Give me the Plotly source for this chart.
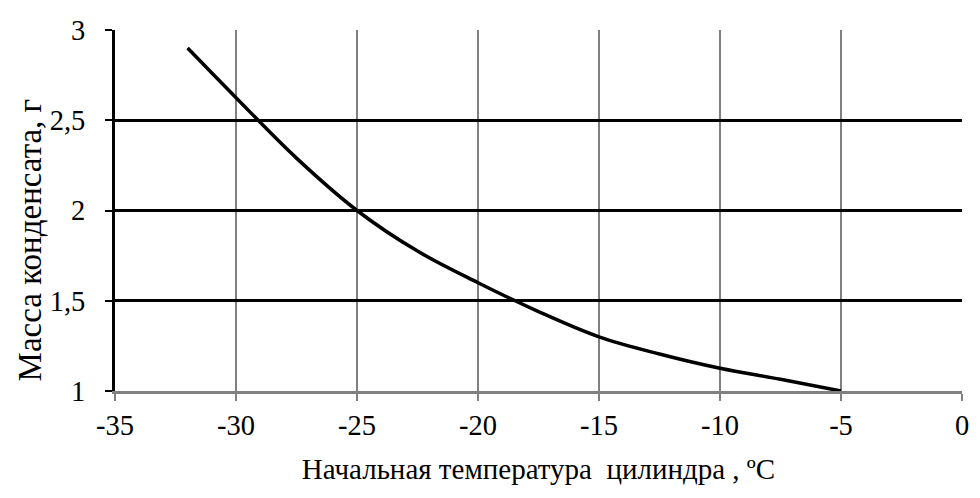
import plotly.graph_objects as go

# Начальная температура цилиндра, ºC
temperature = [-32, -30, -27.5, -25, -22.5, -20, -17.5, -15, -12.5, -10, -7.5, -5]
# Масса конденсата, г
condensate_mass = [2.9, 2.625, 2.29, 2.0, 1.775, 1.6, 1.44, 1.3, 1.205, 1.126, 1.065, 1.0]

x_ticks = [-35, -30, -25, -20, -15, -10, -5, 0]
x_tick_text = ["-35", "-30", "-25", "-20", "-15", "-10", "-5", "0"]
y_ticks = [1, 1.5, 2, 2.5, 3]
y_tick_text = ["1", "1,5", "2", "2,5", "3"]

font_family = "Liberation Serif"

fig = go.Figure()
fig.add_trace(
    go.Scatter(
        x=temperature,
        y=condensate_mass,
        mode="lines",
        line={"width": 3.5, "color": "#000000", "shape": "spline", "smoothing": 1.0},
        showlegend=False,
    )
)
# the page body adds an 8px offset, margins are set against that
fig.update_layout(
    width=980,
    height=498,
    plot_bgcolor="#ffffff",
    paper_bgcolor="#ffffff",
    font={"family": font_family, "size": 28.5, "color": "#000000"},
    margin={"l": 107, "r": 26, "t": 22, "b": 115},
)
fig.update_xaxes(
    range=[-35, 0],
    tickvals=x_ticks,
    ticktext=x_tick_text,
    showgrid=True,
    gridcolor="#808080",
    gridwidth=2,
    showline=True,
    linecolor="#808080",
    linewidth=3,
    ticks="outside",
    ticklen=7,
    tickwidth=2,
    tickcolor="#808080",
    zeroline=False,
    automargin=False,
    title={
        "text": "Начальная температура\u00a0\u00a0цилиндра , ºC",
        "font": {"size": 29},
        "standoff": 19,
    },
)
fig.update_yaxes(
    range=[1, 3],
    tickvals=y_ticks,
    ticktext=y_tick_text,
    showgrid=True,
    gridcolor="#000000",
    gridwidth=3,
    showline=True,
    linecolor="#000000",
    linewidth=3,
    ticks="outside",
    ticklen=7,
    tickwidth=2,
    tickcolor="#000000",
    ticklabelstandoff=14,
    zeroline=False,
    automargin=False,
)
# y title sits a bit below the plot centre in the original
fig.add_annotation(
    text="Масса конденсата, г",
    xref="paper",
    yref="paper",
    x=-0.1,
    y=0.418,
    xanchor="center",
    yanchor="middle",
    textangle=-90,
    showarrow=False,
    font={"size": 33},
)

fig.write_html("out.html")
